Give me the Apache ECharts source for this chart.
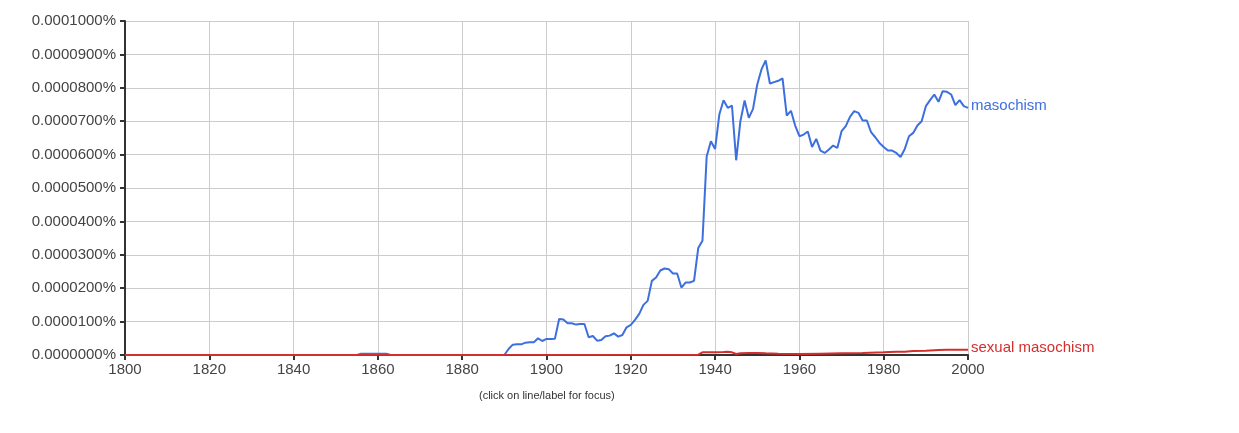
<!DOCTYPE html>
<html>
<head>
<meta charset="utf-8">
<script src="https://cdn.jsdelivr.net/npm/echarts@6/dist/echarts.min.js"></script>
<style>
html,body{margin:0;padding:0;background:#fff;}
#chart{width:1239px;height:433px;}
</style>
</head>
<body>
<div id="chart"></div>
<script>
// values in units of 0.00001 %
var yTicks = [0,1,2,3,4,5,6,7,8,9,10];
var xTicks = [1800,1820,1840,1860,1880,1900,1920,1940,1960,1980,2000];

var masochismYears = [1800,1855,1856,1862,1863,1890,
  1891,1892,1893,1894,1895,1896,1897,1898,1899,1900,
  1901,1902,1903,1904,1905,1906,1907,1908,1909,1910,
  1911,1912,1913,1914,1915,1916,1917,1918,1919,1920,
  1921,1922,1923,1924,1925,1926,1927,1928,1929,1930,
  1931,1932,1933,1934,1935,1936,1937,1938,1939,1940,
  1941,1942,1943,1944,1945,1946,1947,1948,1949,1950,
  1951,1952,1953,1954,1955,1956,1957,1958,1959,1960,
  1961,1962,1963,1964,1965,1966,1967,1968,1969,1970,
  1971,1972,1973,1974,1975,1976,1977,1978,1979,1980,
  1981,1982,1983,1984,1985,1986,1987,1988,1989,1990,
  1991,1992,1993,1994,1995,1996,1997,1998,1999,2000];
var masochismValues = [0,0,0.04,0.04,0,0,
  0.18,0.31,0.32,0.32,0.37,0.38,0.38,0.50,0.42,0.48,
  0.48,0.49,1.08,1.06,0.95,0.95,0.91,0.93,0.93,0.53,
  0.57,0.43,0.45,0.56,0.58,0.65,0.55,0.60,0.83,0.90,
  1.05,1.23,1.50,1.62,2.22,2.32,2.53,2.59,2.57,2.44,
  2.44,2.02,2.17,2.17,2.22,3.20,3.42,5.94,6.40,6.17,
  7.20,7.63,7.40,7.47,5.83,7.00,7.62,7.10,7.37,8.10,
  8.55,8.82,8.13,8.17,8.21,8.28,7.17,7.31,6.87,6.55,
  6.60,6.69,6.23,6.47,6.12,6.05,6.15,6.27,6.20,6.70,
  6.85,7.13,7.30,7.25,7.02,7.02,6.67,6.52,6.35,6.23,
  6.12,6.12,6.05,5.93,6.17,6.55,6.65,6.87,7.00,7.45,
  7.63,7.80,7.58,7.90,7.88,7.80,7.48,7.63,7.45,7.40];

var sexualYears = [1800,1936,1937,1938,1940,1942,1943,1944,1945,1946,1948,1950,1952,1955,1960,1965,1970,1975,1980,1983,1985,1987,1990,1993,1995,2000];
var sexualValues = [0,0.01,0.08,0.08,0.08,0.09,0.10,0.08,0.03,0.05,0.06,0.06,0.05,0.04,0.03,0.04,0.05,0.06,0.08,0.10,0.10,0.12,0.13,0.15,0.16,0.16];

function pairs(xs, ys){ return xs.map(function(x,i){ return [x, ys[i]]; }); }

var chart = echarts.init(document.getElementById('chart'));
var font = 'Arial, "Liberation Sans", sans-serif';
chart.setOption({
  animation:false,
  backgroundColor:'#fff',
  textStyle:{fontFamily:font},
  grid:{left:125,right:271,top:21,bottom:78,containLabel:false},
  graphic:[{type:'text',left:479,top:390,style:{text:'(click on line/label for focus)',fontSize:11,fill:'#333',fontFamily:font}}],
  xAxis:{type:'value',min:xTicks[0],max:xTicks[xTicks.length-1],interval:20,
    axisLine:{show:true,onZero:false,lineStyle:{color:'#333',width:2}},
    axisTick:{show:true,length:5,lineStyle:{color:'#333',width:2}},
    axisLabel:{color:'#444',fontSize:15,margin:7,fontFamily:font,formatter:function(v){return String(v);}},
    splitLine:{show:true,lineStyle:{color:'#ccc',width:1}}},
  yAxis:{type:'value',min:yTicks[0],max:yTicks[yTicks.length-1],interval:1,
    axisLine:{show:true,lineStyle:{color:'#333',width:2}},
    axisTick:{show:true,length:5,lineStyle:{color:'#333',width:2}},
    axisLabel:{color:'#444',fontSize:15,margin:9,fontFamily:font,formatter:function(v){return (v*1e-5).toFixed(7)+'%';}},
    splitLine:{show:true,lineStyle:{color:'#ccc',width:1}}},
  series:[
    {name:'masochism',type:'line',data:pairs(masochismYears,masochismValues),showSymbol:false,symbol:'none',
      lineStyle:{color:'#3d6fdf',width:2},itemStyle:{color:'#3d6fdf'},
      endLabel:{show:true,formatter:'{a}',color:'#3d6fdf',fontSize:15,distance:3,offset:[0,-2],fontFamily:font},z:2},
    {name:'sexual masochism',type:'line',data:pairs(sexualYears,sexualValues),showSymbol:false,symbol:'none',
      lineStyle:{color:'#d62d2d',width:2},itemStyle:{color:'#d62d2d'},
      endLabel:{show:true,formatter:'{a}',color:'#d62d2d',fontSize:15,distance:3,offset:[0,-2],fontFamily:font},z:3}
  ]
});
</script>
</body>
</html>
